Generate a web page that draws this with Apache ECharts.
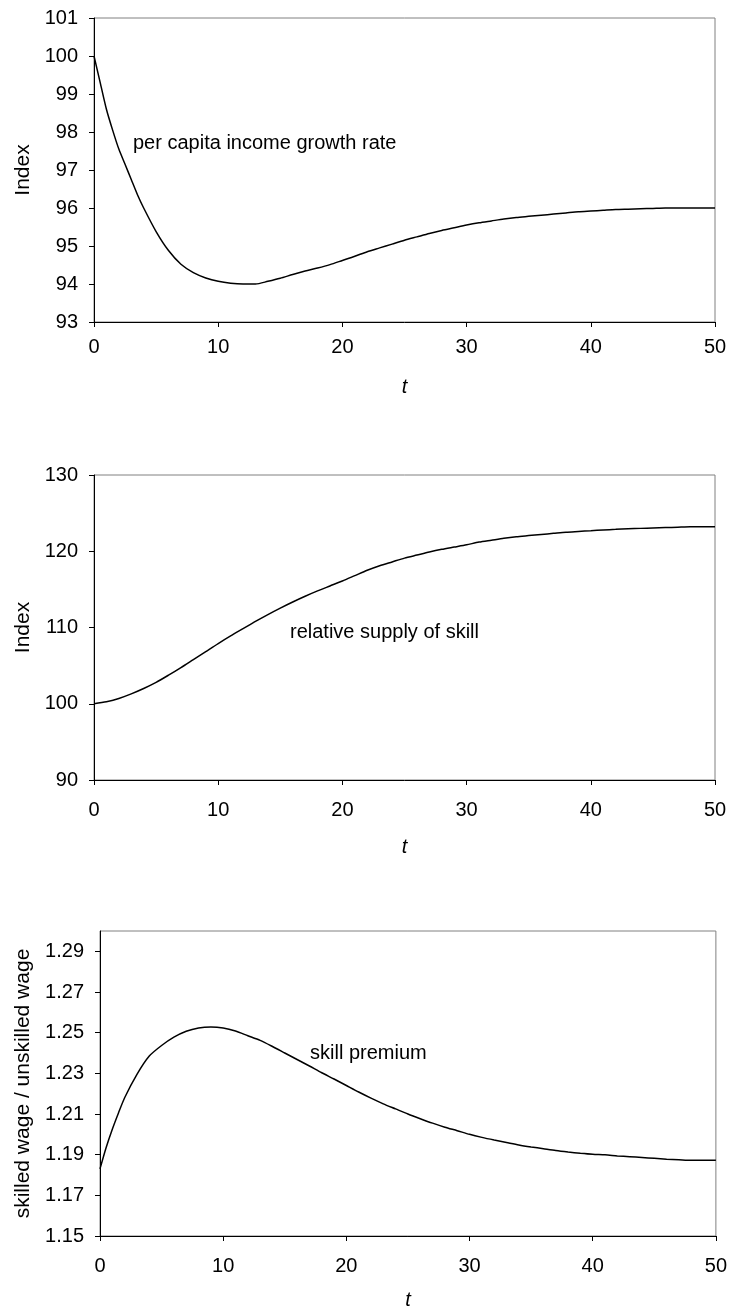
<!DOCTYPE html>
<html>
<head>
<meta charset="utf-8">
<script src="https://cdn.jsdelivr.net/npm/echarts@6/dist/echarts.min.js"></script>
<style>
html,body{margin:0;padding:0;background:#fff;}
#chart{width:730px;height:1315px;}
</style>
</head>
<body>
<div id="chart"></div>
<script>
// ---- data ----
var tIncome = [0,0.5,1,1.5,2,2.5,3,3.5,4,5,6,7,8,9,10,11,12,13,14,15,16,17,18,19,20,21,22,23,24,25,26,27,28,29,30,31,32,33,34,35,36,37,38,39,40,41,42,43,44,45,46,47,48,49,50];
var income = [100.0,99.3,98.6,98.05,97.55,97.15,96.75,96.35,96.0,95.38,94.88,94.52,94.3,94.16,94.07,94.02,94.0,94.0,94.07,94.15,94.25,94.34,94.42,94.51,94.62,94.73,94.85,94.95,95.05,95.15,95.24,95.33,95.41,95.48,95.55,95.61,95.66,95.71,95.75,95.78,95.81,95.84,95.87,95.9,95.92,95.94,95.96,95.97,95.98,95.99,96.0,96.0,96.0,96.0,96.0];

var tSupply = [0,1,2,3,4,5,6,7,8,9,10,11,12,13,14,15,16,17,18,19,20,21,22,23,24,25,26,27,28,29,30,31,32,33,34,35,36,37,38,39,40,41,42,43,44,45,46,47,48,49,50];
var supply = [100.0,100.25,100.7,101.3,102.0,102.8,103.75,104.75,105.8,106.85,107.9,108.9,109.85,110.8,111.7,112.55,113.35,114.1,114.8,115.45,116.1,116.8,117.5,118.1,118.6,119.1,119.5,119.9,120.25,120.55,120.85,121.2,121.45,121.7,121.9,122.05,122.2,122.35,122.5,122.6,122.7,122.8,122.87,122.95,123.0,123.05,123.1,123.15,123.2,123.2,123.2];

var tPremium = [0,0.5,1,1.5,2,3,4,5,6,7,8,9,10,11,12,13,14,15,16,17,18,19,20,21,22,23,24,25,26,27,28,29,30,31,32,33,34,35,36,37,38,39,40,41,42,43,44,45,46,47,48,49,50];
var premium = [1.183,1.1935,1.2025,1.2105,1.218,1.2295,1.2385,1.2437,1.2478,1.2507,1.2523,1.2528,1.2523,1.2508,1.2485,1.2462,1.2432,1.24,1.2368,1.2336,1.2303,1.2272,1.224,1.2208,1.2178,1.215,1.2125,1.21,1.2077,1.2055,1.2035,1.2018,1.2,1.1985,1.1972,1.196,1.1948,1.1938,1.1929,1.192,1.1913,1.1907,1.1902,1.1899,1.1894,1.189,1.1886,1.1882,1.1878,1.1875,1.1872,1.1872,1.1872];

var premiumTicks = [1.15,1.17,1.19,1.21,1.23,1.25,1.27,1.29];

var labels = ['per capita income growth rate','relative supply of skill','skill premium'];
var yNames = ['Index','Index','skilled wage / unskilled wage'];
var xName = 't';

function pairs(xs, ys){ return xs.map(function(x,i){ return [x, ys[i]]; }); }

var FONT = 'Liberation Sans, Arial, sans-serif';
var FS = 20;

function xAxis(idx, margin, nameGap){
  return {
    type:'value', gridIndex:idx, min:0, max:50, interval:10,
    name:xName, nameLocation:'middle', nameGap:nameGap,
    nameTextStyle:{fontStyle:'italic', fontFamily:FONT, fontSize:FS, color:'#000'},
    axisLine:{show:true, onZero:false, lineStyle:{color:'#000', width:1}},
    axisTick:{show:true, inside:false, length:5, lineStyle:{color:'#000'}},
    axisLabel:{color:'#000', fontFamily:FONT, fontSize:FS, margin:margin},
    splitLine:{show:false}
  };
}
function yAxisBase(idx, nameGap){
  return {
    type:'value', gridIndex:idx,
    name:yNames[idx], nameLocation:'middle', nameGap:nameGap, nameRotate:90,
    nameTextStyle:{fontFamily:FONT, fontSize:21, color:'#000'},
    axisLine:{show:true, onZero:false, lineStyle:{color:'#000', width:1}},
    axisTick:{show:true, inside:false, length:5, lineStyle:{color:'#000'}},
    axisLabel:{color:'#000', fontFamily:FONT, fontSize:FS, margin:16},
    splitLine:{show:false}
  };
}

var y0 = yAxisBase(0, 59); y0.min = 93; y0.max = 101; y0.interval = 1;
var y1 = yAxisBase(1, 59); y1.min = 90; y1.max = 130; y1.interval = 10;
var y2 = yAxisBase(2, 64); y2.min = 1.15; y2.max = 1.30;
y2.axisLabel.customValues = premiumTicks;
y2.axisLabel.formatter = function(v){ return v.toFixed(2); };
y2.axisTick.customValues = premiumTicks;

var gridStyle = {show:true, borderColor:'#808080', borderWidth:1, backgroundColor:'#fff'};

var lineStyle = {color:'#000', width:1.5};
function series(idx, data){
  return {type:'line', xAxisIndex:idx, yAxisIndex:idx, data:data, showSymbol:false, symbol:'none',
    smooth:0.25, lineStyle:lineStyle, animation:false, silent:true};
}

var chart = echarts.init(document.getElementById('chart'), null, {renderer:'canvas'});
chart.setOption({
  backgroundColor:'#fff',
  animation:false,
  grid:[
    Object.assign({left:94, top:18, width:621, height:304}, gridStyle),
    Object.assign({left:94, top:475, width:621, height:305}, gridStyle),
    Object.assign({left:100, top:931, width:617, height:305}, gridStyle)
  ],
  xAxis:[xAxis(0, 15, 55), xAxis(1, 20, 57), xAxis(2, 20, 54)],
  yAxis:[y0, y1, y2],
  series:[
    series(0, pairs(tIncome, income)),
    series(1, pairs(tSupply, supply)),
    series(2, pairs(tPremium, premium))
  ],
  graphic:[
    {type:'text', left:133, top:133, style:{text:labels[0], font:FS+'px '+FONT, fill:'#000'}},
    {type:'text', left:290, top:622, style:{text:labels[1], font:FS+'px '+FONT, fill:'#000'}},
    {type:'text', left:310, top:1043, style:{text:labels[2], font:FS+'px '+FONT, fill:'#000'}}
  ]
});
</script>
</body>
</html>
